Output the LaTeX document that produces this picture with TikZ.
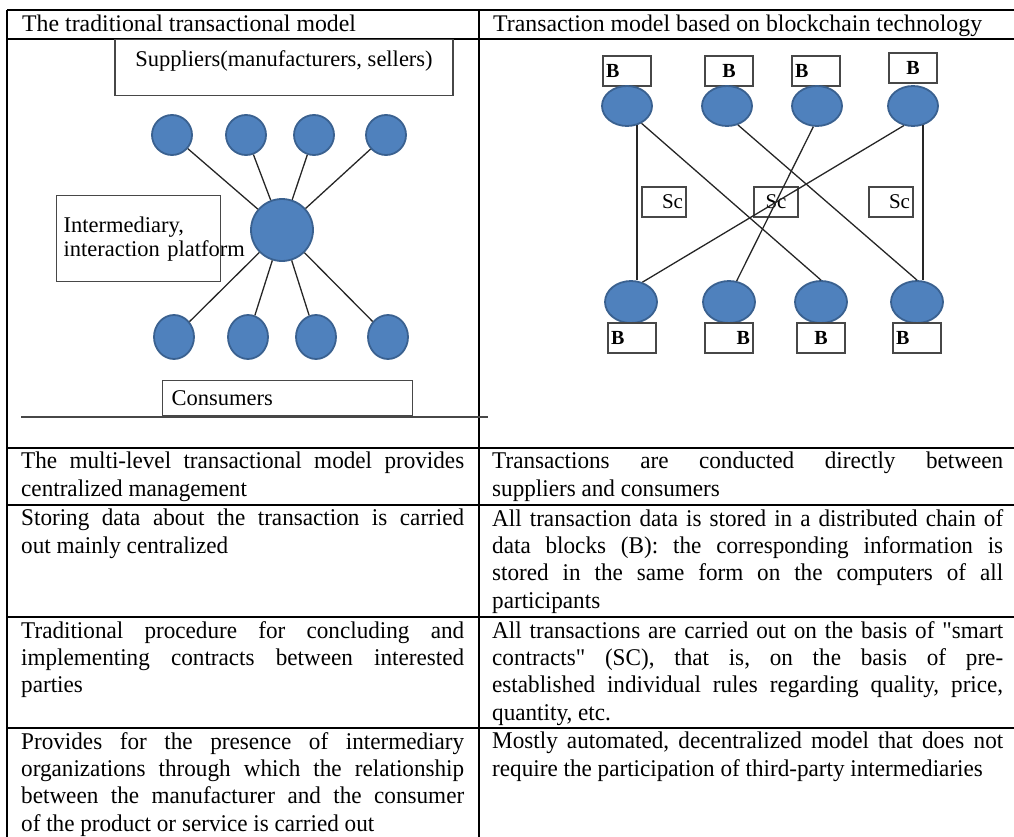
\documentclass[tikz,border=0pt]{standalone}
\usepackage{fontspec}
\setmainfont{Liberation Serif}
\newfontfamily\bodyfont[FakeStretch=0.965]{Liberation Serif}
\usepackage{xcolor}
\usetikzlibrary{shapes.geometric}
\definecolor{nodeblue}{HTML}{4F81BD}
\definecolor{nodeedge}{HTML}{3A6190}
\newcommand{\celltxt}[2]{\parbox[t]{#1}{\bodyfont\fontsize{24}{27.4}\selectfont\frenchspacing
  \tolerance=10000 \hyphenpenalty=10000 \exhyphenpenalty=10000 #2}}

\begin{document}
\begin{tikzpicture}[x=1pt, y=-1pt,
  tabrule/.style={line width=1.6pt},
  headtext/.style={anchor=base west, inner sep=0pt, font=\fontsize{23.8}{27}\selectfont},
  celltext/.style={anchor=north west, inner sep=0pt},
  boxline/.style={draw=black!72, line width=1.4pt},
  drawfont/.style={font=\fontsize{22.5}{24}\selectfont},
  hub/.style={circle, draw=nodeedge, line width=1.8pt, fill=nodeblue, inner sep=0pt},
  peer/.style={ellipse, draw=nodeedge, line width=1.8pt, fill=nodeblue, inner sep=0pt},
  blockbox/.style={boxline, minimum height=30pt, inner xsep=3pt, inner ysep=0pt},
  wire/.style={line width=1.3pt, black!85}
]
\useasboundingbox (0,0) rectangle (1014,837);

\draw[tabrule] (7,10) -- (1014,10) (7,39) -- (1014,39);
\foreach \y in {448,505,617,728}
  \draw[tabrule] (7,\y) -- (1014,\y);
\draw[tabrule] (7,10) -- (7,837) (479,10) -- (479,837);

\node[headtext] (lefthead) at (22,32) {The traditional transactional model};
\node[headtext] (righthead) at (493,32) {Transaction model based on blockchain technology};

% traditional model
\node[boxline, drawfont, anchor=north, minimum width=338pt, text height=26pt, text depth=28pt, inner ysep=1pt] (suppliers) at (284,39) {Suppliers(manufacturers, sellers)};
\foreach \i/\x in {1/172,2/246,3/314,4/386}
  \node[hub, minimum size=40pt] (sup\i) at (\x,135) {};
\node[hub, minimum size=62pt] (platform) at (282,230) {};
\foreach \i/\x in {1/174,2/248,3/316,4/388}
  \node[peer, minimum width=40pt, minimum height=44pt] (con\i) at (\x,337) {};
\foreach \i in {1,...,4} {
  \draw[wire] (sup\i) -- (platform);
  \draw[wire] (platform) -- (con\i);
}
\node[boxline, drawfont, anchor=north west, minimum width=164pt, minimum height=86pt, text width=150pt, inner xsep=7pt, align=left] (broker) at (56,195) {Intermediary,\\\mbox{interaction platform}};
\node[boxline, drawfont, anchor=north west, minimum width=250pt, minimum height=35pt, text width=232pt, inner xsep=9pt, align=left] (consumers) at (162,380) {Consumers};
\draw[boxline] (21,417) -- (488,417);

% blockchain model
\foreach \i/\x/\y/\p in {1/627/71/l,2/729/71/c,3/816/71/l,4/913/68/c}
  \node[blockbox, font=\fontsize{20}{20}\selectfont\bfseries] (topb\i) at (\x,\y) {\makebox[42pt][\p]{B}};
\foreach \i/\x in {1/627,2/727,3/817,4/913}
  \node[peer, minimum width=50pt, minimum height=40pt] (topn\i) at (\x,106) {};
\foreach \i/\x in {1/631,2/729,3/821,4/917}
  \node[peer, minimum width=52pt, minimum height=42pt] (botn\i) at (\x,302) {};
\foreach \i/\x/\p in {1/632/l,2/729/r,3/821/c,4/917/l}
  \node[blockbox, font=\fontsize{20}{20}\selectfont\bfseries] (botb\i) at (\x,338) {\makebox[42pt][\p]{B}};
\foreach \i/\x/\p in {1/664/r,2/776/c,3/891/r}
  \node[blockbox, font=\fontsize{21}{21}\selectfont] (contract\i) at (\x,202) {\makebox[38pt][\p]{Sc}};

\draw[wire] (topn1.297) -- (topn1.297 |- botn1.north);
\draw[wire] (topn4.297) -- (topn4.297 |- botn4.north);
\draw[wire] (topn1.-50) -- (botn3.north);
\draw[wire] (topn2.-60) -- (botn4.north);
\draw[wire] (topn3.-100) -- (botn2.70);
\draw[wire] (topn4.-115) -- (botn1.60);

% comparison rows
\node[celltext] (left1) at (21,452) {\celltxt{443pt}{The multi-level transactional model provides\linebreak centralized management}};
\node[celltext] (right1) at (492,452) {\celltxt{511pt}{Transactions are conducted directly between\linebreak suppliers and consumers}};
\node[celltext] (left2) at (21,509) {\celltxt{443pt}{Storing data about the transaction is carried\linebreak out mainly centralized}};
\node[celltext] (right2) at (492,509) {\celltxt{511pt}{All transaction data is stored in a distributed chain of\linebreak data blocks (B): the corresponding information is\linebreak stored in the same form on the computers of all\linebreak participants}};
\node[celltext] (left3) at (21,621) {\celltxt{443pt}{Traditional procedure for concluding and\linebreak implementing contracts between interested\linebreak parties}};
\node[celltext] (right3) at (492,621) {\celltxt{511pt}{All transactions are carried out on the basis of "smart\linebreak contracts" (SC), that is, on the basis of pre-\linebreak established individual rules regarding quality, price,\linebreak quantity, etc.}};
\node[celltext] (left4) at (21,732) {\celltxt{443pt}{Provides for the presence of intermediary\linebreak organizations through which the relationship\linebreak between the manufacturer and the consumer\linebreak of the product or service is carried out}};
\node[celltext] (right4) at (492,732) {\celltxt{511pt}{Mostly automated, decentralized model that does not\linebreak require the participation of third-party intermediaries}};
\end{tikzpicture}
\end{document}
